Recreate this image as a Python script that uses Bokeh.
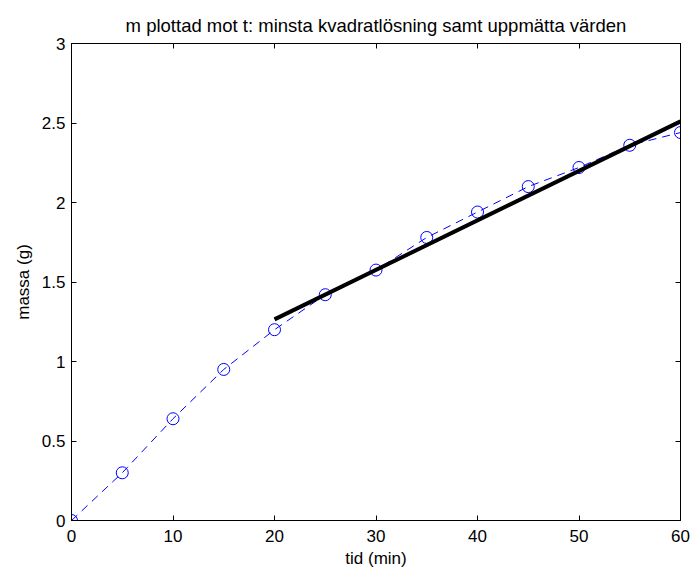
from bokeh.plotting import figure
from bokeh.models import LinearAxis, FixedTicker, Range1d
from bokeh.embed import file_html
from bokeh.resources import INLINE

# measured data
tid = [0, 5, 10, 15, 20, 25, 30, 35, 40, 45, 50, 55, 60]
massa = [0.0, 0.30, 0.64, 0.95, 1.20, 1.42, 1.575, 1.78, 1.94, 2.10, 2.22, 2.36, 2.44]
# least squares line
fit_tid = [20, 60]
fit_massa = [1.265, 2.51]

x_ticks = [0, 10, 20, 30, 40, 50, 60]
y_ticks = [0, 0.5, 1, 1.5, 2, 2.5, 3]
y_tick_labels = ["0", "0.5", "1", "1.5", "2", "2.5", "3"]

FONT = "Liberation Sans"
FS = "17px"

p = figure(width=691, height=570, output_backend="svg", toolbar_location=None,
           x_range=Range1d(0, 60), y_range=Range1d(0, 3),
           min_border_left=71, min_border_right=11, min_border_top=43, min_border_bottom=49,
           x_axis_location=None, y_axis_location=None)
p.grid.visible = False
p.outline_line_color = "black"
p.outline_line_width = 1
p.background_fill_color = "white"
p.border_fill_color = "white"

p.title.text = "m plottad mot t: minsta kvadratlösning samt uppmätta värden"
p.title.align = "center"
p.title.text_font = FONT
p.title.text_font_size = "18.5px"
p.title.text_font_style = "normal"
p.title.text_color = "black"
p.title.offset = 0
p.title.standoff = 15

def style(ax, labels=True):
    ax.axis_line_color = "black"
    ax.major_tick_line_color = "black"
    ax.major_tick_in = 5
    ax.major_tick_out = 0
    ax.minor_tick_in = 0
    ax.minor_tick_out = 0
    ax.major_label_text_font = FONT
    ax.major_label_text_font_size = FS
    ax.major_label_text_color = "black"
    ax.major_label_standoff = 4
    ax.axis_label_text_font = FONT
    ax.axis_label_text_font_size = FS
    ax.axis_label_text_font_style = "normal"
    ax.axis_label_text_color = "black"
    if not labels:
        ax.major_label_text_color = None

xb = LinearAxis(ticker=FixedTicker(ticks=x_ticks), axis_label="tid (min)")
style(xb)
xb.major_label_standoff = 9
xb.axis_label_standoff = 4
p.add_layout(xb, "below")

yl = LinearAxis(ticker=FixedTicker(ticks=y_ticks), axis_label="massa (g)")
style(yl)
yl.major_label_overrides = {t: s for t, s in zip(y_ticks, y_tick_labels)}
yl.major_label_standoff = 6
yl.axis_label_standoff = 6
p.add_layout(yl, "left")

xt = LinearAxis(ticker=FixedTicker(ticks=x_ticks))
style(xt, labels=False)
xt.major_label_text_font_size = "0px"
xt.major_label_standoff = 0
p.add_layout(xt, "above")

yr = LinearAxis(ticker=FixedTicker(ticks=y_ticks))
style(yr, labels=False)
yr.major_label_text_font_size = "0px"
yr.major_label_standoff = 0
p.add_layout(yr, "right")

p.line(tid, massa, line_color="#0000ff", line_width=1, line_dash="8 6")
p.scatter(tid, massa, marker="circle", size=12, fill_color=None,
          line_color="#0000ff", line_width=1)
p.line(fit_tid, fit_massa, line_color="black", line_width=4)

open("out.html", "w").write(file_html(p, INLINE))
